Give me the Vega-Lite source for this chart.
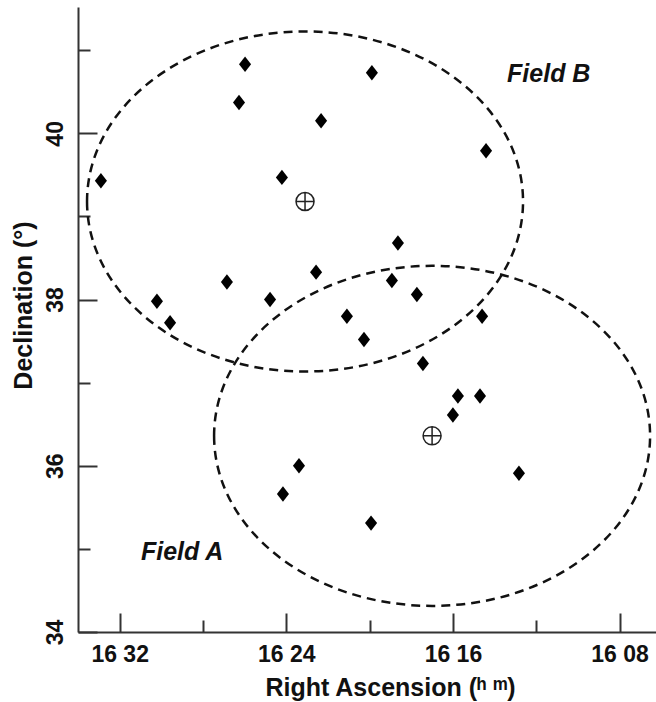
{
  "$schema": "https://vega.github.io/schema/vega-lite/v6.json",
  "width": 578,
  "height": 625,
  "autosize": "none",
  "padding": {"left": 78, "top": 7, "right": 0, "bottom": 70},
  "background": "white",
  "config": {
    "view": {"stroke": null},
    "font": "Liberation Sans",
    "axis": {
      "domainColor": "#333",
      "domainWidth": 2,
      "tickColor": "#333",
      "tickWidth": 2,
      "grid": false,
      "labelFont": "Liberation Sans",
      "labelFontWeight": "bold",
      "labelFontSize": 23,
      "labelColor": "#111",
      "titleFont": "Liberation Sans",
      "titleFontWeight": "bold",
      "titleFontSize": 25,
      "titleColor": "#111"
    }
  },
  "datasets": {
    "sources": [
      {"ra": 32.90, "dec": 39.43},
      {"ra": 25.98, "dec": 40.83},
      {"ra": 26.27, "dec": 40.37},
      {"ra": 19.89, "dec": 40.73},
      {"ra": 22.33, "dec": 40.15},
      {"ra": 24.21, "dec": 39.47},
      {"ra": 14.41, "dec": 39.79},
      {"ra": 30.21, "dec": 37.98},
      {"ra": 29.58, "dec": 37.72},
      {"ra": 26.85, "dec": 38.21},
      {"ra": 24.78, "dec": 38.00},
      {"ra": 22.57, "dec": 38.33},
      {"ra": 21.09, "dec": 37.80},
      {"ra": 18.64, "dec": 38.68},
      {"ra": 18.93, "dec": 38.23},
      {"ra": 17.73, "dec": 38.06},
      {"ra": 14.60, "dec": 37.80},
      {"ra": 20.27, "dec": 37.52},
      {"ra": 17.44, "dec": 37.23},
      {"ra": 15.76, "dec": 36.84},
      {"ra": 16.00, "dec": 36.61},
      {"ra": 14.70, "dec": 36.84},
      {"ra": 23.39, "dec": 36.00},
      {"ra": 24.16, "dec": 35.66},
      {"ra": 12.83, "dec": 35.91},
      {"ra": 19.93, "dec": 35.31}
    ],
    "fields": [
      {"field": "Field B", "ra": 23.1, "dec": 39.18, "label_ra": 11.4, "label_dec": 40.71},
      {"field": "Field A", "ra": 17.0, "dec": 36.36, "label_ra": 29.0, "label_dec": 34.96}
    ]
  },
  "layer": [
    {
      "data": {"name": "fields"},
      "mark": {
        "type": "point",
        "shape": "M-1,0A1,0.78 0 1,0 1,0A1,0.78 0 1,0 -1,0Z",
        "size": 190096,
        "filled": false,
        "stroke": "#111",
        "strokeWidth": 2.5,
        "strokeDash": [9, 6],
        "opacity": 1
      },
      "encoding": {
        "x": {
          "field": "ra", "type": "quantitative",
          "scale": {"domain": [6.25, 34], "reverse": true, "nice": false, "zero": false},
          "axis": {
            "title": "Right Ascension (ʰ   ᵐ)",
            "values": [32, 28, 24, 20, 16, 12, 8],
            "labelExpr": "datum.value % 8 === 0 ? '16 ' + (datum.value < 10 ? '0' + datum.value : datum.value) : ''",
            "tickSize": {"condition": {"test": "datum.value % 8 === 0", "value": -19}, "value": -12},
            "labelPadding": 30,
            "titlePadding": 9,
            "titleX": 312
          }
        },
        "y": {
          "field": "dec", "type": "quantitative",
          "scale": {"domain": [34, 41.52], "nice": false, "zero": false},
          "axis": {
            "title": "Declination (°)",
            "values": [34, 35, 36, 37, 38, 39, 40, 41],
            "labelExpr": "datum.value % 2 === 0 ? '' + datum.value : ''",
            "labelAngle": -90,
            "tickSize": {"condition": {"test": "datum.value % 2 === 0", "value": -19}, "value": -12},
            "labelPadding": 30,
            "titlePadding": 8,
            "titleY": 298
          }
        }
      }
    },
    {
      "data": {"name": "fields"},
      "mark": {
        "type": "point",
        "shape": "M-1,0A1,1 0 1,0 1,0A1,1 0 1,0 -1,0ZM-1,0L1,0M0,-1L0,1",
        "size": 324,
        "filled": false,
        "stroke": "#222",
        "strokeWidth": 1.5,
        "opacity": 1
      },
      "encoding": {
        "x": {"field": "ra", "type": "quantitative"},
        "y": {"field": "dec", "type": "quantitative"}
      }
    },
    {
      "data": {"name": "sources"},
      "mark": {
        "type": "point",
        "shape": "M0,-1L0.78,0L0,1L-0.78,0Z",
        "size": 240,
        "filled": true,
        "fill": "#000",
        "stroke": null,
        "opacity": 1
      },
      "encoding": {
        "x": {"field": "ra", "type": "quantitative"},
        "y": {"field": "dec", "type": "quantitative"}
      }
    },
    {
      "data": {"name": "fields"},
      "mark": {
        "type": "text",
        "font": "Liberation Sans",
        "fontSize": 25,
        "fontWeight": "bold",
        "fontStyle": "italic",
        "color": "#111",
        "align": "center",
        "baseline": "middle"
      },
      "encoding": {
        "x": {"field": "label_ra", "type": "quantitative"},
        "y": {"field": "label_dec", "type": "quantitative"},
        "text": {"field": "field"}
      }
    }
  ]
}
